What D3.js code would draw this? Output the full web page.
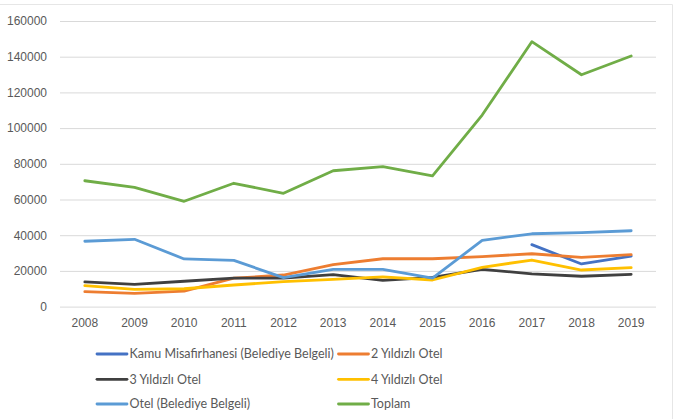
<!DOCTYPE html>
<html><head><meta charset="utf-8">
<script src="https://cdn.jsdelivr.net/npm/d3@7"></script>
<style>body{margin:0;background:#fff;}svg{display:block;font-family:Lato,"Open Sans",sans-serif;}</style>
</head><body><svg id="c" width="676" height="419"></svg>
<script>
const years = ["2008","2009","2010","2011","2012","2013","2014","2015","2016","2017","2018","2019"];
const yTicks = [0,20000,40000,60000,80000,100000,120000,140000,160000];
const seriesNames = ["Kamu Misafirhanesi (Belediye Belgeli)","2 Yıldızlı Otel","3 Yıldızlı Otel","4 Yıldızlı Otel","Otel (Belediye Belgeli)","Toplam"];
const seriesColors = ["#4472C4","#ED7D31","#404040","#FFC000","#5B9BD5","#70AD47"];
const kamu   = [null,null,null,null,null,null,null,null,null,34700,23900,28300];
const yildiz2 = [8400,7400,8700,15900,17700,23500,26800,26800,28000,29600,27600,29100];
const yildiz3 = [13800,12500,14200,15900,15900,17900,14700,16400,20900,18300,17000,18100];
const yildiz4 = [11700,9700,10000,12100,14000,15300,16700,14900,22000,26100,20500,21800];
const otelBel = [36600,37700,26700,25900,16200,20900,20900,15900,37100,40800,41400,42500];
const toplam  = [70500,66800,59000,69100,63500,76100,78400,73200,107300,148400,129900,140400];
const allSeries = [kamu,yildiz2,yildiz3,yildiz4,otelBel,toplam];

const svg = d3.select("#c");
// chart border
svg.append("line").attr("x1",0).attr("x2",672.5).attr("y1",4.5).attr("y2",4.5).attr("stroke","#e6e6e6");
svg.append("line").attr("x1",672.5).attr("x2",672.5).attr("y1",4.5).attr("y2",419).attr("stroke","#e6e6e6");

const x = d3.scaleBand().domain(years).range([60,656]);
const y = d3.scaleLinear().domain([0,160000]).range([306.6,21]);

const gy = svg.append("g").attr("transform","translate(60,0)")
  .call(d3.axisLeft(y).tickValues(yTicks).tickSize(-596).tickFormat(d3.format("d")));
gy.select(".domain").remove();
gy.selectAll(".tick line").attr("stroke","#d9d9d9");
gy.selectAll(".tick text").attr("x",-13).attr("fill","#595959").attr("font-size","12px");

const gx = svg.append("g").attr("transform","translate(0,306.6)")
  .call(d3.axisBottom(x).tickSize(0));
gx.select(".domain").remove();
gx.selectAll(".tick text").attr("dy","0").attr("y",20.5).attr("fill","#595959").attr("font-size","12px");

const line = d3.line().defined(d=>d!=null).x((d,i)=>x(years[i])+x.bandwidth()/2).y(d=>y(d));
allSeries.forEach((s,k)=>{
  svg.append("path").datum(s).attr("d",line).attr("fill","none")
    .attr("stroke",seriesColors[k]).attr("stroke-width",2.8).attr("stroke-linejoin","round").attr("stroke-linecap","round");
});

// legend
const lx = [97,338.5], ly = [354,379.3,404];
seriesNames.forEach((n,k)=>{
  const cx = lx[k%2], cy = ly[Math.floor(k/2)];
  const g = svg.append("g");
  g.append("line").attr("x1",cx).attr("x2",cx+30).attr("y1",cy).attr("y2",cy)
    .attr("stroke",seriesColors[k]).attr("stroke-width",2.8).attr("stroke-linecap","round");
  g.append("text").attr("x",cx+32.5).attr("y",cy).attr("dy","0.35em").attr("fill","#595959")
    .attr("font-size","12.5px").text(n);
});
</script></body></html>
